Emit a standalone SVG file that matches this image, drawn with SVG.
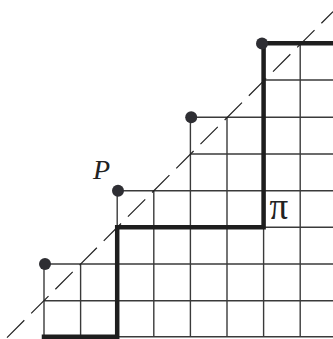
<svg xmlns="http://www.w3.org/2000/svg" width="333" height="339" viewBox="0 0 333 339">
<style>
.grid line{stroke:#3a3a3a;stroke-width:1.4}
.path{fill:none;stroke:#1e1e1e;stroke-width:4.5;stroke-linejoin:miter;stroke-linecap:square}
.diag{stroke:#222;stroke-width:1.2;stroke-dasharray:24.5 9.7}
.dot{fill:#2e2e33}
.lbl{font-family:"Liberation Serif",serif;fill:#222}
</style>
<rect width="333" height="339" fill="#fff"/>
<g id="grid" class="grid">
<line x1="263.6" y1="80" x2="333" y2="80"/>
<line x1="190.4" y1="117.3" x2="333" y2="117.3"/>
<line x1="190.4" y1="154" x2="333" y2="154"/>
<line x1="117.2" y1="190.7" x2="333" y2="190.7"/>
<line x1="117.2" y1="227.3" x2="333" y2="227.3"/>
<line x1="44" y1="264" x2="333" y2="264"/>
<line x1="44" y1="300.7" x2="333" y2="300.7"/>
<line x1="44" y1="336.7" x2="333" y2="336.7"/>
<line x1="44" y1="264" x2="44" y2="336.7"/>
<line x1="80.6" y1="264" x2="80.6" y2="336.7"/>
<line x1="117.2" y1="190.7" x2="117.2" y2="336.7"/>
<line x1="153.8" y1="190.7" x2="153.8" y2="336.7"/>
<line x1="190.4" y1="117.3" x2="190.4" y2="336.7"/>
<line x1="227" y1="117.3" x2="227" y2="336.7"/>
<line x1="263.6" y1="43.3" x2="263.6" y2="336.7"/>
<line x1="300.2" y1="43.3" x2="300.2" y2="336.7"/>
</g>
<g id="diagonal">
<line class="diag" x1="7" y1="337.6" x2="333" y2="11.6"/>
</g>
<g id="lattice-path">
<path class="path" d="M44,336.7 H117.2 V227.3 H263.6 V43.3 H335"/>
</g>
<g id="dots">
<circle class="dot" cx="45" cy="264" r="6"/>
<circle class="dot" cx="118" cy="190.7" r="6"/>
<circle class="dot" cx="191.2" cy="117.3" r="6"/>
<circle class="dot" cx="262" cy="43.5" r="6"/>
</g>
<g id="labels">
<text class="lbl" x="93" y="178.5" font-size="28" font-style="italic">P</text>
<text class="lbl" x="269.5" y="218.5" font-size="37">π</text>
</g>
</svg>
